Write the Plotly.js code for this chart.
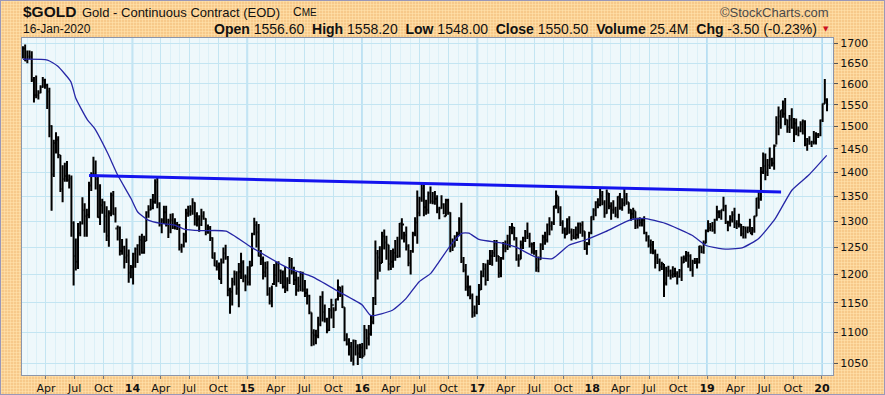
<!DOCTYPE html>
<html><head><meta charset="utf-8">
<script src="https://cdn.plot.ly/plotly-3.0.1.min.js"></script>
<style>
html,body{margin:0;padding:0;background:#fff;}
#wrap{position:relative;width:885px;height:395px;background-color:#F7C98A;background-image:radial-gradient(circle,#FFDFA8 0.9px,transparent 1.2px);background-size:3px 3px;overflow:hidden;}
#chart{position:absolute;left:0;top:0;width:885px;height:395px;}
#frame{position:absolute;left:0;top:0;width:883px;height:393px;border:1px solid #9a98b8;pointer-events:none;}
</style></head>
<body><div id="wrap"><div id="chart"></div><div id="frame"></div></div>
<script>
// Weekly bars, first week ending 2013-01-18
const firstWeek = '2013-01-18';

const open = [
1670,1687,1657,1667,1667,1609,1572,1572,1578,1592,1608,1596,1581,1501,1395,1463,1470,1437,1365,1386,1392,1383,1387,1297,1234,1223,1277,1296,1322,1310,1313,1372,1396,1396,1386,1308,1332,1338,1310,1272,1316,1352,1314,1286,1288,1243,1250,1231,1235,1203,
1213,1238,1247,1254,1264,1240,1262,1318,1323,1326,1339,1379,1335,1294,1302,1318,1293,1301,1302,1288,1294,1293,1250,1253,1274,1316,1320,1320,1337,1310,1304,1294,1310,1305,1280,1287,1268,1230,1216,1214,1192,1222,1239,1231,1172,1169,1187,1201,1175,1205,1222,1196,
1195,1186,1216,1276,1293,1279,1234,1228,1204,1212,1165,1153,1183,1199,1218,1207,1204,1178,1175,1189,1226,1205,1190,1172,1179,1201,1173,1167,1162,1133,1099,1095,1094,1113,1160,1134,1121,1103,1137,1146,1137,1156,1177,1163,1142,1088,1081,1076,1057,1086,1076,1065,
1075,1061,1104,1090,1097,1117,1158,1239,1231,1221,1271,1259,1255,1219,1223,1240,1234,1233,1296,1294,1273,1252,1221,1243,1276,1298,1317,1345,1366,1328,1323,1357,1340,1339,1345,1324,1326,1334,1310,1342,1317,1257,1251,1267,1275,1304,1224,1208,1178,1177,1162,1133,1133,
1152,1173,1197,1210,1190,1220,1234,1240,1258,1234,1202,1230,1250,1249,1255,1287,1288,1268,1228,1228,1255,1268,1280,1271,1256,1256,1242,1212,1228,1255,1269,1264,1294,1291,1297,1330,1351,1325,1297,1284,1275,1304,1280,1272,1269,1274,1296,1293,1281,1248,1257,1278,
1309,1322,1338,1333,1351,1337,1316,1356,1330,1323,1324,1313,1349,1327,1336,1348,1338,1323,1315,1321,1292,1303,1298,1302,1278,1270,1254,1255,1241,1231,1223,1214,1219,1184,1206,1206,1199,1201,1201,1196,1207,1222,1229,1235,1234,1209,1223,1223,1222,1252,1241,1258,
1282,1287,1290,1283,1303,1318,1318,1323,1330,1299,1298,1303,1313,1296,1295,1294,1276,1288,1281,1288,1277,1284,1310,1346,1344,1400,1413,1400,1415,1427,1419,1457,1509,1523,1537,1529,1515,1499,1516,1497,1507,1493,1490,1505,1511,1460,1468,1463,1465,1465,1481,1480,
1514,1552,1562
];

const high = [
1693,1697,1682,1682,1680,1616,1620,1584,1596,1616,1612,1600,1590,1503,1470,1487,1478,1437,1415,1420,1424,1395,1393,1300,1267,1297,1300,1348,1336,1325,1380,1400,1433,1425,1390,1375,1345,1340,1330,1322,1358,1361,1328,1292,1290,1266,1253,1267,1246,1217,
1240,1250,1256,1272,1276,1272,1320,1332,1345,1355,1385,1392,1338,1306,1331,1331,1305,1315,1316,1306,1299,1295,1257,1278,1325,1331,1332,1346,1338,1318,1312,1325,1320,1306,1294,1291,1269,1241,1226,1222,1229,1250,1255,1234,1176,1194,1207,1206,1221,1240,1226,1200,
1215,1225,1278,1307,1300,1295,1245,1233,1223,1224,1177,1180,1219,1223,1224,1209,1207,1215,1195,1232,1230,1214,1205,1196,1206,1205,1190,1175,1164,1133,1105,1104,1126,1162,1170,1147,1124,1141,1157,1142,1157,1191,1178,1180,1142,1098,1090,1084,1088,1087,1080,1081,
1082,1112,1105,1112,1128,1160,1263,1245,1252,1280,1284,1272,1255,1245,1248,1264,1270,1297,1306,1280,1290,1256,1245,1280,1308,1362,1349,1377,1375,1343,1360,1370,1359,1361,1352,1329,1352,1336,1345,1345,1318,1267,1273,1280,1308,1337,1232,1219,1198,1180,1166,1145,1162,
1183,1207,1221,1220,1227,1245,1245,1264,1264,1234,1232,1260,1263,1274,1291,1297,1289,1269,1237,1263,1270,1283,1298,1278,1259,1260,1245,1233,1258,1274,1280,1296,1308,1300,1331,1362,1350,1330,1302,1288,1306,1310,1286,1285,1290,1298,1298,1300,1281,1260,1280,1310,
1326,1340,1346,1366,1361,1342,1364,1357,1338,1342,1329,1350,1357,1346,1369,1357,1338,1324,1327,1320,1307,1308,1305,1310,1280,1273,1265,1262,1246,1238,1229,1223,1219,1214,1216,1209,1215,1212,1206,1210,1233,1235,1243,1242,1237,1227,1230,1230,1253,1252,1263,1284,
1302,1297,1299,1305,1331,1322,1323,1349,1333,1301,1312,1320,1327,1302,1315,1295,1291,1290,1290,1305,1289,1311,1347,1361,1411,1442,1440,1428,1453,1431,1460,1523,1546,1537,1560,1566,1516,1526,1542,1519,1518,1500,1512,1516,1514,1474,1478,1468,1490,1487,1485,1516,
1553,1611,1565
];

const low = [
1662,1655,1650,1660,1604,1555,1565,1562,1577,1590,1588,1540,1476,1321,1390,1440,1430,1359,1338,1380,1380,1366,1270,1180,1207,1210,1271,1294,1270,1270,1306,1361,1392,1364,1307,1293,1315,1278,1262,1251,1310,1313,1298,1263,1235,1236,1211,1221,1185,1193,
1182,1212,1221,1235,1238,1238,1262,1307,1322,1324,1335,1326,1290,1277,1295,1290,1268,1277,1285,1284,1283,1244,1240,1250,1259,1309,1311,1313,1292,1290,1280,1291,1303,1273,1276,1262,1229,1215,1207,1191,1183,1220,1227,1161,1131,1145,1180,1164,1142,1192,1186,1170,
1180,1180,1215,1273,1250,1233,1217,1191,1195,1162,1147,1142,1181,1178,1186,1183,1175,1167,1170,1183,1200,1181,1162,1169,1170,1169,1160,1147,1130,1077,1078,1080,1090,1110,1118,1116,1098,1102,1123,1107,1136,1154,1160,1141,1085,1078,1062,1052,1046,1062,1047,1058,
1057,1062,1072,1078,1094,1113,1146,1191,1205,1221,1246,1227,1207,1208,1212,1225,1230,1231,1265,1259,1244,1215,1200,1240,1271,1257,1310,1339,1310,1313,1315,1335,1334,1333,1316,1304,1325,1314,1310,1313,1241,1243,1251,1262,1272,1221,1204,1171,1161,1156,1124,1126,1130,
1146,1172,1195,1180,1188,1217,1216,1232,1223,1194,1195,1227,1241,1245,1250,1275,1263,1225,1214,1228,1247,1260,1266,1250,1238,1236,1205,1204,1227,1245,1255,1259,1273,1282,1293,1325,1316,1291,1276,1267,1274,1276,1263,1266,1265,1267,1276,1270,1245,1236,1254,1275,
1302,1310,1326,1330,1332,1307,1315,1324,1303,1315,1308,1306,1323,1321,1330,1333,1315,1301,1305,1285,1286,1290,1290,1275,1261,1250,1238,1237,1211,1219,1206,1208,1160,1180,1196,1191,1194,1195,1182,1194,1188,1221,1223,1212,1206,1196,1219,1211,1220,1239,1238,1258,
1279,1281,1280,1276,1301,1306,1303,1320,1295,1281,1290,1298,1287,1285,1288,1271,1267,1267,1277,1279,1273,1278,1310,1325,1341,1396,1383,1392,1407,1412,1405,1460,1480,1495,1520,1503,1486,1485,1495,1465,1480,1478,1487,1482,1456,1446,1459,1454,1460,1460,1474,1478,
1510,1552,1535
];

const close = [
1687,1657,1667,1667,1609,1572,1572,1578,1592,1608,1596,1581,1501,1395,1463,1470,1437,1365,1386,1392,1383,1387,1297,1234,1223,1277,1296,1322,1310,1313,1372,1396,1396,1386,1308,1332,1338,1310,1272,1316,1352,1314,1286,1288,1243,1250,1231,1235,1203,1213,
1238,1247,1254,1264,1240,1262,1318,1323,1326,1339,1379,1335,1294,1302,1318,1293,1301,1302,1288,1294,1293,1250,1253,1274,1316,1320,1320,1337,1310,1304,1294,1310,1305,1280,1287,1268,1230,1216,1214,1192,1222,1239,1231,1172,1169,1187,1201,1175,1205,1222,1196,1195,
1186,1216,1276,1293,1279,1234,1228,1204,1212,1165,1153,1183,1199,1218,1207,1204,1178,1175,1189,1226,1205,1190,1172,1179,1201,1173,1167,1162,1133,1099,1095,1094,1113,1160,1134,1121,1103,1137,1146,1137,1156,1177,1163,1142,1088,1081,1076,1057,1086,1076,1065,1075,
1061,1104,1090,1097,1117,1158,1239,1231,1221,1271,1259,1255,1219,1223,1240,1234,1233,1296,1294,1273,1252,1221,1243,1276,1298,1317,1345,1366,1328,1323,1357,1340,1339,1345,1324,1326,1334,1310,1342,1317,1257,1251,1267,1275,1304,1224,1208,1178,1177,1162,1133,1133,1152,
1173,1197,1210,1190,1220,1234,1240,1258,1234,1202,1230,1250,1249,1255,1287,1288,1268,1228,1228,1255,1268,1280,1271,1256,1256,1242,1212,1228,1255,1269,1264,1294,1291,1297,1330,1351,1325,1297,1284,1275,1304,1280,1272,1269,1274,1296,1293,1281,1248,1257,1278,1309,
1322,1338,1333,1351,1337,1316,1356,1330,1323,1324,1313,1349,1327,1336,1348,1338,1323,1315,1321,1292,1303,1298,1302,1278,1270,1254,1255,1241,1231,1223,1214,1219,1184,1206,1206,1199,1201,1201,1196,1207,1222,1229,1235,1234,1209,1223,1223,1222,1252,1241,1258,1282,
1287,1290,1283,1303,1318,1318,1323,1330,1299,1298,1303,1313,1296,1295,1294,1276,1288,1281,1288,1277,1284,1310,1346,1344,1400,1413,1400,1415,1427,1419,1457,1509,1523,1537,1529,1515,1499,1516,1497,1507,1493,1490,1505,1511,1460,1468,1463,1465,1465,1481,1480,1514,
1552,1562,1550.5
];

// Moving average
const maDates = ['2013-01-18','2013-04-06','2013-05-08','2013-06-19','2013-07-05','2013-08-11','2013-09-02','2013-10-14','2013-11-15','2013-12-27','2014-01-17','2014-02-18','2014-04-01','2014-05-13','2014-06-14','2014-08-06','2014-10-25','2015-01-12','2015-05-13','2015-07-26','2015-10-19','2016-01-01','2016-01-28','2016-04-06','2016-05-19','2016-06-30','2016-08-06','2016-09-01','2016-10-13','2016-11-14','2016-12-05','2017-01-06','2017-03-20','2017-05-02','2017-07-05','2017-08-27','2017-10-19','2017-12-10','2018-02-12','2018-05-02','2018-06-14','2018-08-21','2018-11-14','2018-12-27','2019-02-18','2019-04-22','2019-06-14','2019-08-06','2019-09-28','2019-11-20','2020-01-16'];
const maValues = [1660,1658,1643,1605,1565,1515,1496,1441,1394,1346,1319,1303,1296,1293,1285,1282,1281,1251,1211,1196,1169,1146,1128,1137,1157,1187,1202,1223,1258,1277,1277,1265,1258,1251,1232,1229,1254,1264,1280,1303,1306,1296,1273,1254,1247,1249,1267,1306,1363,1394,1436];

// Trend line
const tlDates = ['2013-08-16','2019-08-24'];
const tlValues = [1393,1359];

// Axis ticks
const xTickVals = ['2013-04-01','2013-07-01','2013-10-01','2014-01-01','2014-04-01','2014-07-01','2014-10-01','2015-01-01','2015-04-01','2015-07-01','2015-10-01','2016-01-01','2016-04-01','2016-07-01','2016-10-01','2017-01-01','2017-04-01','2017-07-01','2017-10-01','2018-01-01','2018-04-01','2018-07-01','2018-10-01','2019-01-01','2019-04-01','2019-07-01','2019-10-01','2020-01-01'];
const xTickText = ['Apr','Jul','Oct','14','Apr','Jul','Oct','15','Apr','Jul','Oct','16','Apr','Jul','Oct','17','Apr','Jul','Oct','18','Apr','Jul','Oct','19','Apr','Jul','Oct','20'];
const yearTicks = ['2014-01-01','2015-01-01','2016-01-01','2017-01-01','2018-01-01','2019-01-01','2020-01-01'];
const yTickVals = [1050,1100,1150,1200,1250,1300,1350,1400,1450,1500,1550,1600,1650,1700];

// week dates
const n = Math.min(open.length, high.length, low.length, close.length);
const weekDates = [];
const t0 = Date.parse(firstWeek + 'T00:00:00Z');
for (let i = 0; i < n; i++) {
  weekDates.push(new Date(t0 + i * 7 * 86400000).toISOString().slice(0, 10));
}

const ohlc = {
  type: 'ohlc', x: weekDates, open: open.slice(0,n), high: high.slice(0,n), low: low.slice(0,n), close: close.slice(0,n),
  increasing: {line: {color: '#000000', width: 2}},
  decreasing: {line: {color: '#000000', width: 2}},
  tickwidth: 0.5, hoverinfo: 'skip'
};
const ma = {type: 'scatter', mode: 'lines', x: maDates, y: maValues,
  line: {color: '#2626a6', width: 1.3, shape: 'spline', smoothing: 0.5}, hoverinfo: 'skip'};
const tl = {type: 'scatter', mode: 'lines', x: tlDates, y: tlValues,
  line: {color: '#1414ee', width: 3}, hoverinfo: 'skip'};

const PL = 22, PR = 833, PT = 38, PB = 375;
const px = v => (v - PL) / (PR - PL);
const py = v => (PB - v) / (PB - PT);

const shapes = yearTicks.map(d => ({type: 'line', xref: 'x', yref: 'paper', x0: d, x1: d, y0: 0, y1: 1,
  layer: 'below', line: {color: '#9fd2f0', width: 1.6}}));

const hdr = 'Liberation Sans, Arial, sans-serif';
const annotations = [
  {text: '<b>$GOLD</b>', x: px(21), y: py(11), xref: 'paper', yref: 'paper', xanchor: 'left', yanchor: 'middle', showarrow: false, font: {family: hdr, size: 15.5, color: '#111'}},
  {text: 'Gold - Continuous Contract (EOD)', x: px(80), y: py(12), xref: 'paper', yref: 'paper', xanchor: 'left', yanchor: 'middle', showarrow: false, font: {family: hdr, size: 13, color: '#111'}},
  {text: 'C<span style="font-size:10px">ME</span>', x: px(291), y: py(12), xref: 'paper', yref: 'paper', xanchor: 'left', yanchor: 'middle', showarrow: false, font: {family: hdr, size: 12, color: '#111'}},
  {text: '16-Jan-2020', x: px(21), y: py(29), xref: 'paper', yref: 'paper', xanchor: 'left', yanchor: 'middle', showarrow: false, font: {family: hdr, size: 12, color: '#111'}},
  {text: '<b>Open</b> 1556.60  <b>High</b> 1558.20  <b>Low</b> 1548.00  <b>Close</b> 1550.50  <b>Volume</b> 25.4M  <b>Chg</b> -3.50 (-0.23%)', x: px(819), y: py(29), xref: 'paper', yref: 'paper', xanchor: 'right', yanchor: 'middle', showarrow: false, font: {family: hdr, size: 14, color: '#111'}},
  {text: '▼', x: px(826), y: py(29), xref: 'paper', yref: 'paper', xanchor: 'center', yanchor: 'middle', showarrow: false, font: {family: 'DejaVu Sans', size: 7, color: '#cc1122'}},
  {text: '©StockCharts.com', x: px(831), y: py(12), xref: 'paper', yref: 'paper', xanchor: 'right', yanchor: 'middle', showarrow: false, font: {family: hdr, size: 13, color: '#4a4a4a'}}
];
if (n !== open.length || n !== high.length || n !== low.length || n !== close.length) {
  annotations.push({text: 'LEN ' + [open.length, high.length, low.length, close.length].join(','), x: 0.5, y: 0.5, xref: 'paper', yref: 'paper', showarrow: false, font: {size: 20, color: 'red'}});
}

const layout = {
  width: 885, height: 395,
  margin: {l: PL, r: 885 - PR, t: PT, b: 395 - PB, pad: 0},
  paper_bgcolor: 'rgba(0,0,0,0)', plot_bgcolor: '#EEF8FB',
  showlegend: false,
  font: {family: 'DejaVu Sans, Verdana, sans-serif', size: 11, color: '#111'},
  xaxis: {
    type: 'date', range: ['2013-01-15', '2020-02-05'],
    tickmode: 'array', tickvals: xTickVals,
    ticktext: xTickText.map(t => /^\d+$/.test(t) ? '<b>' + t + '</b>' : t),
    ticks: 'outside', ticklen: 3, tickcolor: '#777', tickfont: {size: 11, color: '#111'},
    showgrid: true, gridcolor: '#c3e5f2', gridwidth: 1,
    minor: {dtick: 'M1', tick0: '2013-01-01', showgrid: true, gridcolor: '#dcf0f7', ticks: ''},
    showline: true, mirror: true, linecolor: '#8c96aa', linewidth: 1,
    zeroline: false, rangeslider: {visible: false}, fixedrange: true
  },
  yaxis: {
    type: 'log', side: 'right',
    range: [Math.log10(1031.2), Math.log10(1714)],
    tickmode: 'array', tickvals: yTickVals, ticktext: yTickVals.map(String),
    ticks: 'outside', ticklen: 4, tickcolor: '#555', tickfont: {size: 11, color: '#111'},
    showgrid: true, gridcolor: '#c3e5f2', gridwidth: 1,
    showline: true, mirror: true, linecolor: '#8c96aa', linewidth: 1,
    zeroline: false, fixedrange: true
  },
  shapes: shapes,
  annotations: annotations
};

Plotly.newPlot('chart', [ohlc, ma, tl], layout, {staticPlot: true, displayModeBar: false});
</script>
</body></html>
